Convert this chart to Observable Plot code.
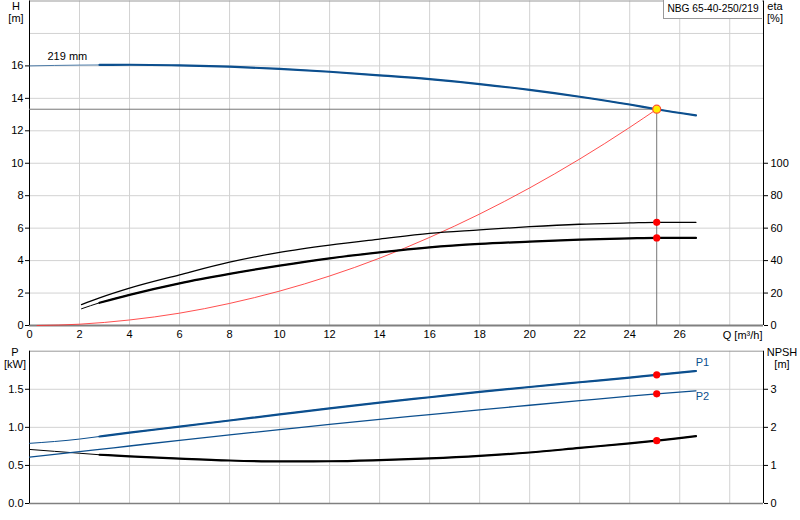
<!DOCTYPE html>
<html>
<head>
<meta charset="utf-8">
<script src="https://cdn.jsdelivr.net/npm/d3@7"></script>
<script src="https://cdn.jsdelivr.net/npm/@observablehq/plot@0.6"></script>
<style>
  html, body { margin: 0; padding: 0; background: #fff; }
  body { width: 800px; height: 520px; position: relative; font-family: "Liberation Sans", Arial, sans-serif; font-size: 11px; color: #000; }
  .abs { position: absolute; }
  .lbl { position: absolute; text-align: center; line-height: 12px; font-size: 11px; }
  #title { position: absolute; left: 663px; top: 0px; width: 98px; height: 18px; border: 1px solid #999; border-top: none; border-right: none; font-size: 10.2px; line-height: 18px; text-align: center; background: #fff; white-space: nowrap; overflow: hidden; }
</style>
</head>
<body>
<div id="topchart" class="abs" style="left:0;top:0;"></div>
<div id="bottomchart" class="abs" style="left:0;top:340px;"></div>
<div class="lbl" style="left:5px;top:0px;width:22px;">H<br>[m]</div>
<div class="lbl" style="left:764px;top:0px;width:22px;">eta<br>[%]</div>
<div class="lbl" style="left:3px;top:346px;width:24px;">P<br>[kW]</div>
<div class="lbl" style="left:764px;top:346px;width:36px;">NPSH<br>[m]</div>
<div id="title">NBG 65-40-250/219</div>
<script>
// ---------- data ----------
const qMax = 29.35;
const qTicks = [0,2,4,6,8,10,12,14,16,18,20,22,24,26];
const qGrid = [2,4,6,8,10,12,14,16,18,20,22,24,26,28];
const hTicks = [0,2,4,6,8,10,12,14,16];
const hGrid = [2,4,6,8,10,12,14,16,18];
const etaTicks = [0,20,40,60,80,100];
const pTicks = [0,0.5,1.0,1.5];
const npshTicks = [0,1,2,3];

const dutyQ = 25.08;
const dutyH = 13.33;

// Head curve (219 mm)
const qH = [0,2,2.8,4,6,8,10,12,14,16,18,20,22,24,25.08,26.65];
const hVals = [16.0,16.05,16.06,16.07,16.03,15.95,15.82,15.64,15.42,15.18,14.88,14.52,14.1,13.62,13.33,12.95];

// System curve
const qSys = [0.3,2,4,6,8,10,12,14,16,18,20,22,24,25.08];
const hSys = [0,0.08,0.34,0.76,1.36,2.12,3.05,4.15,5.43,6.87,8.48,10.26,12.21,13.33];

// Efficiency curves [%]
const qEta = [2.08,2.8,4,6,8,10,12,14,16,18,20,22,24,25.08,26.65];
const etaUpper = [12.9,17.0,23.0,31.2,39.0,45.1,49.6,53.3,56.8,58.9,60.9,62.4,63.2,63.6,63.6];
const etaLower = [10.3,14.0,18.9,26.0,31.8,36.9,41.4,45.1,48.2,50.3,51.7,52.9,53.7,54.0,54.0];
const etaDuty = [63.6, 54.0];

// Power & NPSH curves
const qP = [0,2,2.8,4,6,8,10,12,14,16,18,20,22,24,25.08,26.65];
const p1 = [0.79,0.846,0.88,0.93,1.01,1.09,1.17,1.25,1.325,1.395,1.465,1.53,1.592,1.654,1.69,1.74];
const p2 = [0.61,0.68,0.71,0.755,0.83,0.90,0.97,1.04,1.105,1.167,1.23,1.29,1.35,1.41,1.44,1.48];
const npsh = [1.42,1.32,1.28,1.24,1.18,1.13,1.105,1.11,1.14,1.185,1.25,1.34,1.46,1.58,1.65,1.77];
const pDuty = [1.69, 1.44];
const npshDuty = 1.65;

// ---------- tables ----------
const headRows = qH.map((q,i)=>({q, h:hVals[i]}));
const sysRows = qSys.map((q,i)=>({q, h:hSys[i]}));
const etaURows = qEta.map((q,i)=>({q, e:etaUpper[i]}));
const etaLRows = qEta.map((q,i)=>({q, e:etaLower[i]}));
const p1Rows = qP.map((q,i)=>({q, p:p1[i]}));
const p2Rows = qP.map((q,i)=>({q, p:p2[i]}));
const npRows = qP.map((q,i)=>({q, n:npsh[i]}));

const blue = "#0c4f8e";
const gridC = "#d2d2d2";
const thick = 2.2;
const style = {fontFamily: '"Liberation Sans", Arial, sans-serif', fontSize: "11px", color: "#000", background: "transparent", overflow: "visible"};
const curve = "monotone-x";

// ---------- top chart ----------
const topPlot = Plot.plot({
  width: 800, height: 340,
  marginLeft: 29, marginRight: 37, marginTop: 0.5, marginBottom: 15,
  style,
  x: {domain: [0, qMax], axis: null},
  y: {domain: [0, 20], axis: null},
  marks: [
    Plot.gridX(qGrid, {stroke: gridC, strokeOpacity: 1}),
    Plot.gridY(hGrid, {stroke: gridC, strokeOpacity: 1}),
    Plot.ruleY([20], {stroke: "#999"}),
    Plot.ruleY([0], {stroke: "#808080", strokeWidth: 2}),
    Plot.ruleX([0], {stroke: "#000"}),
    Plot.ruleX([qMax], {stroke: "#000"}),
    Plot.axisY({ticks: hTicks, tickSize: 4, tickPadding: 2, label: null}),
    Plot.axisY({anchor: "right", ticks: etaTicks.map(d=>d/10), tickFormat: d => d*10, tickSize: 4, tickPadding: 3, label: null}),
    Plot.axisX({ticks: qTicks, tickSize: 0, tickPadding: 5, label: null}),
    Plot.text(["Q [m³/h]"], {x: 27.72, y: 0, dy: 10, text: d => d, textAnchor: "start", fontSize: 11}),
    // duty point guide lines
    Plot.ruleY([dutyH], {x1: 0, x2: dutyQ, stroke: "#777"}),
    Plot.ruleX([dutyQ], {y1: 0, y2: dutyH, stroke: "#777"}),
    // system curve
    Plot.line(sysRows, {x: "q", y: "h", stroke: "#ff3030", strokeWidth: 1, strokeOpacity: 0.85, curve}),
    // efficiency curves (right axis, eta/10 maps onto H scale)
    Plot.line(etaURows, {x: "q", y: d => d.e/10, stroke: "#000", strokeWidth: 1.3, curve}),
    Plot.line(etaLRows, {x: "q", y: d => d.e/10, stroke: "#000", strokeWidth: 1, curve}),
    Plot.line(etaLRows.filter(d => d.q >= 2.8), {x: "q", y: d => d.e/10, stroke: "#000", strokeWidth: thick, curve}),
    // head curve
    Plot.line(headRows, {x: "q", y: "h", stroke: blue, strokeWidth: 1, strokeOpacity: 0.7, curve}),
    Plot.line(headRows.filter(d => d.q >= 2.8), {x: "q", y: "h", stroke: blue, strokeWidth: thick, curve}),
    Plot.text(["219 mm"], {x: 0.72, y: 16.57, text: d => d, textAnchor: "start", fontSize: 11}),
    // duty dots
    Plot.dot(etaDuty, {x: () => dutyQ, y: d => d/10, r: 3.6, fill: "#ff0000", stroke: "none"}),
    Plot.dot([dutyH], {x: () => dutyQ, y: d => d, r: 4, fill: "#ffee00", stroke: "#ff5030", strokeWidth: 1.2})
  ]
});
document.getElementById("topchart").appendChild(topPlot);

// ---------- bottom chart ----------
const bottomPlot = Plot.plot({
  width: 800, height: 170,
  marginLeft: 29, marginRight: 37, marginTop: 10.7, marginBottom: 7,
  style,
  x: {domain: [0, qMax], axis: null},
  y: {domain: [0, 2], axis: null},
  marks: [
    Plot.gridX(qGrid, {stroke: gridC, strokeOpacity: 1}),
    Plot.gridY([0.5, 1.0, 1.5], {stroke: gridC, strokeOpacity: 1}),
    Plot.ruleY([2], {stroke: "#999"}),
    Plot.ruleY([0], {stroke: "#808080", strokeWidth: 1.5}),
    Plot.ruleX([0], {stroke: "#000"}),
    Plot.ruleX([qMax], {stroke: "#000"}),
    Plot.axisY({ticks: pTicks, tickFormat: d3.format(".1f"), tickSize: 4, tickPadding: 2, label: null}),
    Plot.axisY({anchor: "right", ticks: npshTicks.map(d=>d/2), tickFormat: d => d*2, tickSize: 4, tickPadding: 3, label: null}),
    // NPSH (right axis, NPSH/2 maps onto P scale)
    Plot.line(npRows, {x: "q", y: d => d.n/2, stroke: "#000", strokeWidth: 1, curve}),
    Plot.line(npRows.filter(d => d.q >= 2.8), {x: "q", y: d => d.n/2, stroke: "#000", strokeWidth: thick, curve}),
    // P2
    Plot.line(p2Rows, {x: "q", y: "p", stroke: blue, strokeWidth: 1.3, curve}),
    // P1
    Plot.line(p1Rows, {x: "q", y: "p", stroke: blue, strokeWidth: 1, curve}),
    Plot.line(p1Rows.filter(d => d.q >= 2.8), {x: "q", y: "p", stroke: blue, strokeWidth: thick, curve}),
    Plot.text(["P1"], {x: 26.64, y: 1.855, text: d => d, textAnchor: "start", fill: blue, fontSize: 11}),
    Plot.text(["P2"], {x: 26.64, y: 1.40, text: d => d, textAnchor: "start", fill: blue, fontSize: 11}),
    Plot.dot(pDuty, {x: () => dutyQ, y: d => d, r: 3.6, fill: "#ff0000", stroke: "none"}),
    Plot.dot([npshDuty], {x: () => dutyQ, y: d => d/2, r: 3.6, fill: "#ff0000", stroke: "none"})
  ]
});
document.getElementById("bottomchart").appendChild(bottomPlot);
</script>
</body>
</html>
